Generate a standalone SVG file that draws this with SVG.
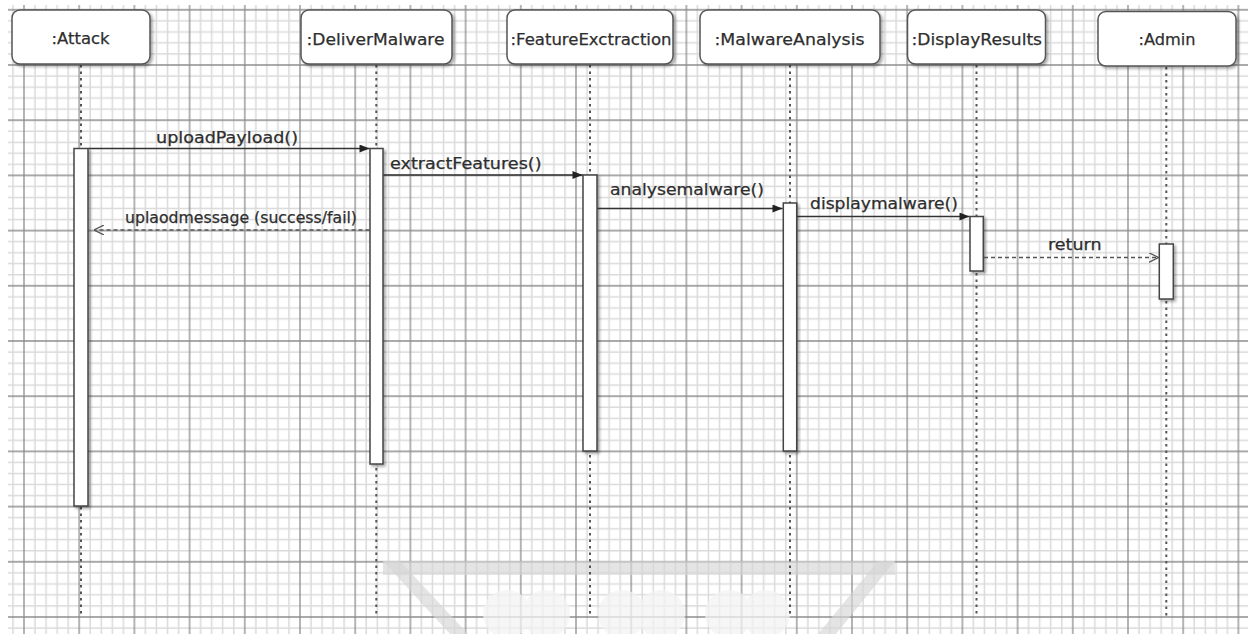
<svg xmlns="http://www.w3.org/2000/svg" width="1253" height="634" viewBox="0 0 1253 634">
<defs>
<style>
.hdr{fill:#fff;stroke:#555;stroke-width:1.5}
.bar{fill:#fff;stroke:#444;stroke-width:1.5}
.life{stroke:#555;stroke-width:2;stroke-dasharray:2.5 4;fill:none}
.msg{stroke:#333;stroke-width:1.5;fill:none}
.ret{stroke:#555;stroke-width:1.5;stroke-dasharray:4 3;fill:none}
.ht{font-family:"DejaVu Sans","Liberation Sans",sans-serif;font-size:16px;fill:#2e2e2e;stroke:#2e2e2e;stroke-width:0.25}
.mt{font-family:"DejaVu Sans","Liberation Sans",sans-serif;font-size:15px;fill:#2e2e2e;stroke:#2e2e2e;stroke-width:0.25}
.wm{fill:#d6d6d6;opacity:0.65}
.cloud{fill:#f3f3f3}
</style>
<pattern id="grid" patternUnits="userSpaceOnUse" x="-3.6" y="-17.8" width="55.2" height="55.2">
<g stroke="#dadada" stroke-width="1.5">
<line x1="5.52" y1="0" x2="5.52" y2="55.2"/><line x1="16.56" y1="0" x2="16.56" y2="55.2"/>
<line x1="38.64" y1="0" x2="38.64" y2="55.2"/><line x1="49.68" y1="0" x2="49.68" y2="55.2"/>
<line y1="5.52" x1="0" y2="5.52" x2="55.2"/><line y1="16.56" x1="0" y2="16.56" x2="55.2"/>
<line y1="38.64" x1="0" y2="38.64" x2="55.2"/><line y1="49.68" x1="0" y2="49.68" x2="55.2"/>
</g>
<g stroke="#8c8c8c" stroke-width="1.3">
<line x1="27.6" y1="0" x2="27.6" y2="55.2"/><line y1="27.6" x1="0" y2="27.6" x2="55.2"/>
</g>
</pattern>
<filter id="sh" x="-20%" y="-20%" width="150%" height="150%">
<feDropShadow dx="2" dy="2" stdDeviation="1.8" flood-color="#000" flood-opacity="0.35"/>
</filter>
<marker id="fa" viewBox="0 0 10 8" refX="10" refY="4" markerWidth="11" markerHeight="8" markerUnits="userSpaceOnUse" orient="auto">
<path d="M0,0 L10,4 L0,8 z" fill="#222"/>
</marker>
<marker id="oa" viewBox="0 0 10 10" refX="10" refY="5" markerWidth="10" markerHeight="10" markerUnits="userSpaceOnUse" orient="auto">
<path d="M0,0 L10,5 L0,10" fill="none" stroke="#555" stroke-width="1.3"/>
</marker>
</defs>
<rect width="1253" height="634" fill="#fff"/>
<rect x="8" y="5" width="1240" height="629" fill="url(#grid)"/>
<g id="watermark">
<rect class="wm" x="383" y="561" width="512" height="14"/>
<polygon class="wm" points="383,561 400,561 468,634 450,634"/>
<polygon class="wm" points="895,561 878,561 818,634 836,634"/>
<g opacity="0.75">
<circle class="cloud" cx="507" cy="614" r="24"/><circle class="cloud" cx="546" cy="614" r="24"/>
<circle class="cloud" cx="622" cy="614" r="24"/><circle class="cloud" cx="661" cy="614" r="24"/>
<circle class="cloud" cx="729" cy="614" r="24"/><circle class="cloud" cx="766" cy="614" r="24"/>
</g>
</g>
<g id="node-attack">
<line class="life" x1="81" y1="65" x2="81" y2="616"/>
<rect class="hdr" filter="url(#sh)" x="12" y="10" width="138" height="54" rx="8"/>
<text class="ht" x="51.5" y="44" textLength="58" lengthAdjust="spacingAndGlyphs">:Attack</text>
<rect class="bar" filter="url(#sh)" x="74" y="148.5" width="14" height="357.5"/>
</g>
<g id="node-delivermalware">
<line class="life" x1="376.3" y1="65" x2="376.3" y2="616"/>
<rect class="hdr" filter="url(#sh)" x="301" y="10" width="151" height="54" rx="8"/>
<text class="ht" x="306.5" y="44.5" textLength="138" lengthAdjust="spacingAndGlyphs">:DeliverMalware</text>
<rect class="bar" filter="url(#sh)" x="370" y="148.5" width="13" height="315.5"/>
</g>
<g id="node-featureexctraction">
<line class="life" x1="590" y1="65" x2="590" y2="616"/>
<rect class="hdr" filter="url(#sh)" x="507" y="10" width="166" height="54" rx="8"/>
<text class="ht" x="510.5" y="44.5" textLength="161" lengthAdjust="spacingAndGlyphs">:FeatureExctraction</text>
<rect class="bar" filter="url(#sh)" x="583" y="175" width="14" height="276"/>
</g>
<g id="node-malwareanalysis">
<line class="life" x1="790" y1="65" x2="790" y2="616"/>
<rect class="hdr" filter="url(#sh)" x="700" y="10" width="180" height="54" rx="8"/>
<text class="ht" x="714.5" y="44.5" textLength="150" lengthAdjust="spacingAndGlyphs">:MalwareAnalysis</text>
<rect class="bar" filter="url(#sh)" x="783.3" y="203" width="13.4" height="248"/>
</g>
<g id="node-displayresults">
<line class="life" x1="976.5" y1="65" x2="976.5" y2="616"/>
<rect class="hdr" filter="url(#sh)" x="907.5" y="10" width="138" height="54" rx="8"/>
<text class="ht" x="911.5" y="44.5" textLength="130.5" lengthAdjust="spacingAndGlyphs">:DisplayResults</text>
<rect class="bar" filter="url(#sh)" x="970" y="216.5" width="13.3" height="54.5"/>
</g>
<g id="node-admin">
<line class="life" x1="1166.3" y1="67" x2="1166.3" y2="616"/>
<rect class="hdr" filter="url(#sh)" x="1098" y="11.5" width="138" height="54.5" rx="8"/>
<text class="ht" x="1138.5" y="45" textLength="57" lengthAdjust="spacingAndGlyphs">:Admin</text>
<rect class="bar" filter="url(#sh)" x="1159.3" y="244" width="14" height="55"/>
</g>
<g id="connectors">
<line class="msg" x1="88.5" y1="148.5" x2="369.5" y2="148.5" marker-end="url(#fa)"/>
<text class="mt" x="156" y="143" textLength="142" lengthAdjust="spacingAndGlyphs">uploadPayload()</text>
<line class="ret" x1="369.5" y1="230" x2="94" y2="230" marker-end="url(#oa)"/>
<text class="mt" x="125" y="223" textLength="232" lengthAdjust="spacingAndGlyphs">uplaodmessage (success/fail)</text>
<line class="msg" x1="383.5" y1="175" x2="582.5" y2="175" marker-end="url(#fa)"/>
<text class="mt" x="390" y="168.5" textLength="151.5" lengthAdjust="spacingAndGlyphs">extractFeatures()</text>
<line class="msg" x1="597.5" y1="208.5" x2="782.5" y2="208.5" marker-end="url(#fa)"/>
<text class="mt" x="610" y="195" textLength="154" lengthAdjust="spacingAndGlyphs">analysemalware()</text>
<line class="msg" x1="797" y1="216.5" x2="969.5" y2="216.5" marker-end="url(#fa)"/>
<text class="mt" x="810" y="209" textLength="148" lengthAdjust="spacingAndGlyphs">displaymalware()</text>
<line class="ret" x1="984" y1="257.5" x2="1158.5" y2="257.5" marker-end="url(#oa)"/>
<text class="mt" x="1048" y="250" textLength="53.5" lengthAdjust="spacingAndGlyphs">return</text>
</g>
</svg>
